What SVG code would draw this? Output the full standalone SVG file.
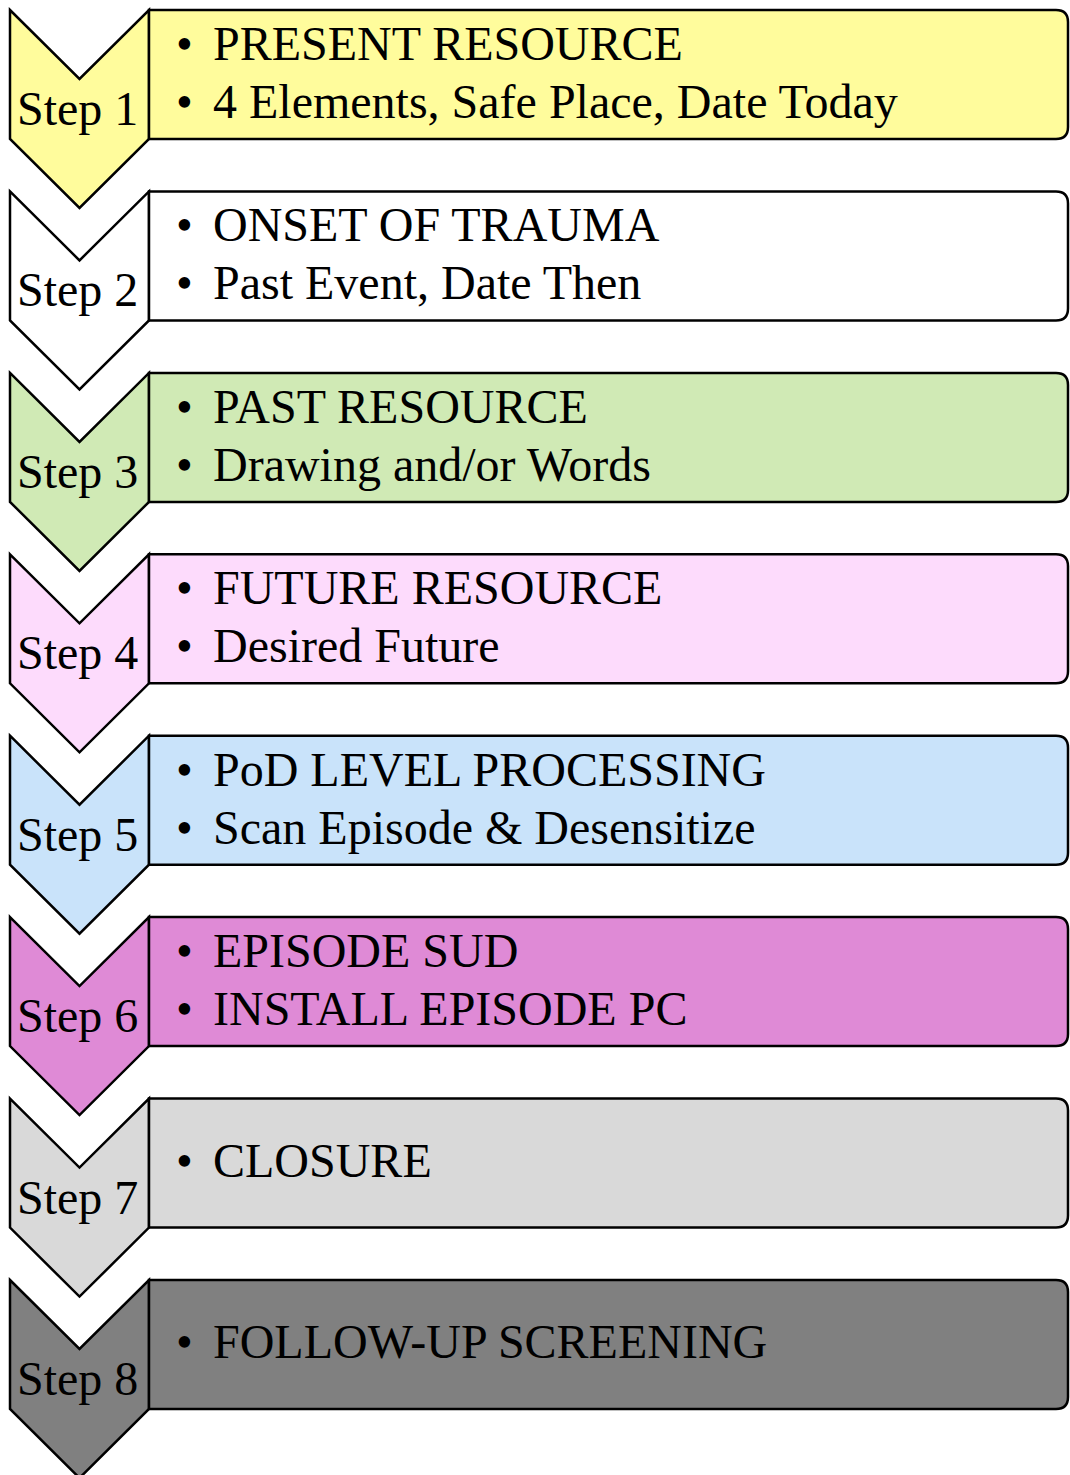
<svg xmlns="http://www.w3.org/2000/svg" width="1070" height="1475" viewBox="0 0 1070 1475">
  <defs>
    <style>
      .shape { stroke: #000; stroke-width: 2.5; stroke-linejoin: miter; }
      .lbl { font-family: "Liberation Serif", "Times New Roman", serif; font-size: 48px; fill: #000; }
      .s1 { fill: #FFFC9C; }
      .s2 { fill: #FFFFFF; }
      .s3 { fill: #D0EAB5; }
      .s4 { fill: #FDDBFC; }
      .s5 { fill: #C9E3FA; }
      .s6 { fill: #DF8AD6; }
      .s7 { fill: #D9D9D9; }
      .s8 { fill: #808080; }
    </style>
    <!-- chevron pointing down, 139 wide -->
    <path id="chev" d="M10,0 L79.5,69 L149,0 L149,129 L79.5,198 L10,129 Z"/>
    <!-- text panel with rounded right corners -->
    <path id="panel" d="M149,0 L1056,0 Q1068,0 1068,12 L1068,117 Q1068,129 1056,129 L149,129 Z"/>
  </defs>

  <rect width="1070" height="1475" fill="#FFFFFF"/>

  <g id="step1" transform="translate(0,10)">
    <use href="#chev" class="shape s1"/>
    <use href="#panel" class="shape s1"/>
    <text class="lbl" x="17" y="115">Step 1</text>
    <text class="lbl" x="176" y="50">•</text>
    <text class="lbl" x="213" y="50">PRESENT RESOURCE</text>
    <text class="lbl" x="176" y="108">•</text>
    <text class="lbl" x="213" y="108">4 Elements, Safe Place, Date Today</text>
  </g>

  <g id="step2" transform="translate(0,191.4)">
    <use href="#chev" class="shape s2"/>
    <use href="#panel" class="shape s2"/>
    <text class="lbl" x="17" y="115">Step 2</text>
    <text class="lbl" x="176" y="50">•</text>
    <text class="lbl" x="213" y="50">ONSET OF TRAUMA</text>
    <text class="lbl" x="176" y="108">•</text>
    <text class="lbl" x="213" y="108">Past Event, Date Then</text>
  </g>

  <g id="step3" transform="translate(0,372.9)">
    <use href="#chev" class="shape s3"/>
    <use href="#panel" class="shape s3"/>
    <text class="lbl" x="17" y="115">Step 3</text>
    <text class="lbl" x="176" y="50">•</text>
    <text class="lbl" x="213" y="50">PAST RESOURCE</text>
    <text class="lbl" x="176" y="108">•</text>
    <text class="lbl" x="213" y="108">Drawing and/or Words</text>
  </g>

  <g id="step4" transform="translate(0,554.3)">
    <use href="#chev" class="shape s4"/>
    <use href="#panel" class="shape s4"/>
    <text class="lbl" x="17" y="115">Step 4</text>
    <text class="lbl" x="176" y="50">•</text>
    <text class="lbl" x="213" y="50">FUTURE RESOURCE</text>
    <text class="lbl" x="176" y="108">•</text>
    <text class="lbl" x="213" y="108">Desired Future</text>
  </g>

  <g id="step5" transform="translate(0,735.7)">
    <use href="#chev" class="shape s5"/>
    <use href="#panel" class="shape s5"/>
    <text class="lbl" x="17" y="115">Step 5</text>
    <text class="lbl" x="176" y="50">•</text>
    <text class="lbl" x="213" y="50">PoD LEVEL PROCESSING</text>
    <text class="lbl" x="176" y="108">•</text>
    <text class="lbl" x="213" y="108">Scan Episode &amp; Desensitize</text>
  </g>

  <g id="step6" transform="translate(0,917.1)">
    <use href="#chev" class="shape s6"/>
    <use href="#panel" class="shape s6"/>
    <text class="lbl" x="17" y="115">Step 6</text>
    <text class="lbl" x="176" y="50">•</text>
    <text class="lbl" x="213" y="50">EPISODE SUD</text>
    <text class="lbl" x="176" y="108">•</text>
    <text class="lbl" x="213" y="108">INSTALL EPISODE PC</text>
  </g>

  <g id="step7" transform="translate(0,1098.6)">
    <use href="#chev" class="shape s7"/>
    <use href="#panel" class="shape s7"/>
    <text class="lbl" x="17" y="115">Step 7</text>
    <text class="lbl" x="176" y="78">•</text>
    <text class="lbl" x="213" y="78">CLOSURE</text>
  </g>

  <g id="step8" transform="translate(0,1280)">
    <use href="#chev" class="shape s8"/>
    <use href="#panel" class="shape s8"/>
    <text class="lbl" x="17" y="115">Step 8</text>
    <text class="lbl" x="176" y="78">•</text>
    <text class="lbl" x="213" y="78">FOLLOW-UP SCREENING</text>
  </g>
</svg>
